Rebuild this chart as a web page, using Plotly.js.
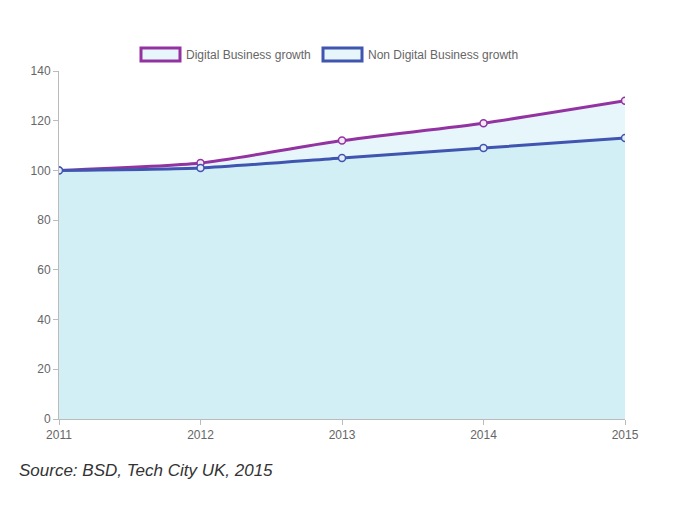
<!DOCTYPE html>
<html><head><meta charset="utf-8">
<script src="https://cdn.plot.ly/plotly-3.0.1.min.js"></script>
<style>html,body{margin:0;padding:0;background:#fff;}#chart{width:679px;height:506px;}</style>
</head><body><div id="chart"></div>
<script>
const years = [2011, 2012, 2013, 2014, 2015];
const digitalGrowth = [100, 103, 112, 119, 128];
const nonDigitalGrowth = [100, 101, 105, 109, 113];
const seriesNames = ["Digital Business growth", "Non Digital Business growth"];
const yTicks = [0, 20, 40, 60, 80, 100, 120, 140];

const purple = "#9333a1";
const blue = "#3f55b0";

const traces = [
  {
    x: years, y: digitalGrowth, name: seriesNames[0], type: "scatter", mode: "lines+markers",
    line: {color: purple, width: 3, shape: "spline", smoothing: 0.6},
    marker: {size: 7, color: "#f3eaf6", line: {color: purple, width: 1.5}},
    fill: "tozeroy", fillcolor: "rgba(230,246,251,1)", showlegend: false
  },
  {
    x: years, y: nonDigitalGrowth, name: seriesNames[1], type: "scatter", mode: "lines+markers",
    line: {color: blue, width: 3, shape: "spline", smoothing: 0.6},
    marker: {size: 7, color: "#e3ecf7", line: {color: blue, width: 1.5}},
    fill: "tozeroy", fillcolor: "rgba(210,239,245,1)", showlegend: false
  }
];

const plotW = 679 - 59 - 54, plotH = 506 - 71 - 87;
function px(x) { return (x - 59) / plotW; }
function py(y) { return (506 - 87 - y) / plotH; }

const layout = {
  width: 679, height: 506,
  margin: {l: 59, r: 54, t: 71, b: 87},
  paper_bgcolor: "#fff", plot_bgcolor: "#fff",
  font: {family: "Liberation Sans, Arial, sans-serif", size: 12, color: "#666"},
  xaxis: {
    range: [2011, 2015], tickvals: years, ticktext: years.map(String),
    showgrid: false, zeroline: false, showline: true, linecolor: "#bbb", linewidth: 1,
    ticks: "outside", ticklen: 5, tickcolor: "#bbb", tickfont: {size: 12, color: "#666"}
  },
  yaxis: {
    range: [0, 140], tickvals: yTicks,
    showgrid: false, zeroline: false, showline: true, linecolor: "#bbb", linewidth: 1,
    ticks: "outside", ticklen: 5, tickcolor: "#bbb", tickfont: {size: 12, color: "#666"}
  },
  annotations: [
    {xref: "paper", yref: "paper", x: px(17), y: py(470), xanchor: "left", yanchor: "middle",
     text: "<i>Source: BSD, Tech City UK, 2015</i>", showarrow: false,
     font: {family: "Liberation Sans, Arial, sans-serif", size: 17, color: "#333"}}
  ]
};

const legendItems = [
  {x0: 141, color: purple, textX: 184, label: seriesNames[0]},
  {x0: 323, color: blue, textX: 366, label: seriesNames[1]}
];
layout.shapes = legendItems.map(it => ({
  type: "rect", xref: "paper", yref: "paper",
  x0: px(it.x0), x1: px(it.x0 + 39), y0: py(61), y1: py(48),
  fillcolor: "rgba(230,246,251,1)", line: {color: it.color, width: 3}
}));
legendItems.forEach(it => layout.annotations.push({
  xref: "paper", yref: "paper", x: px(it.textX), y: py(55), xanchor: "left", yanchor: "middle",
  text: it.label, showarrow: false, font: {size: 12, color: "#666"}
}));

Plotly.newPlot("chart", traces, layout, {displayModeBar: false, staticPlot: true});
</script></body></html>
